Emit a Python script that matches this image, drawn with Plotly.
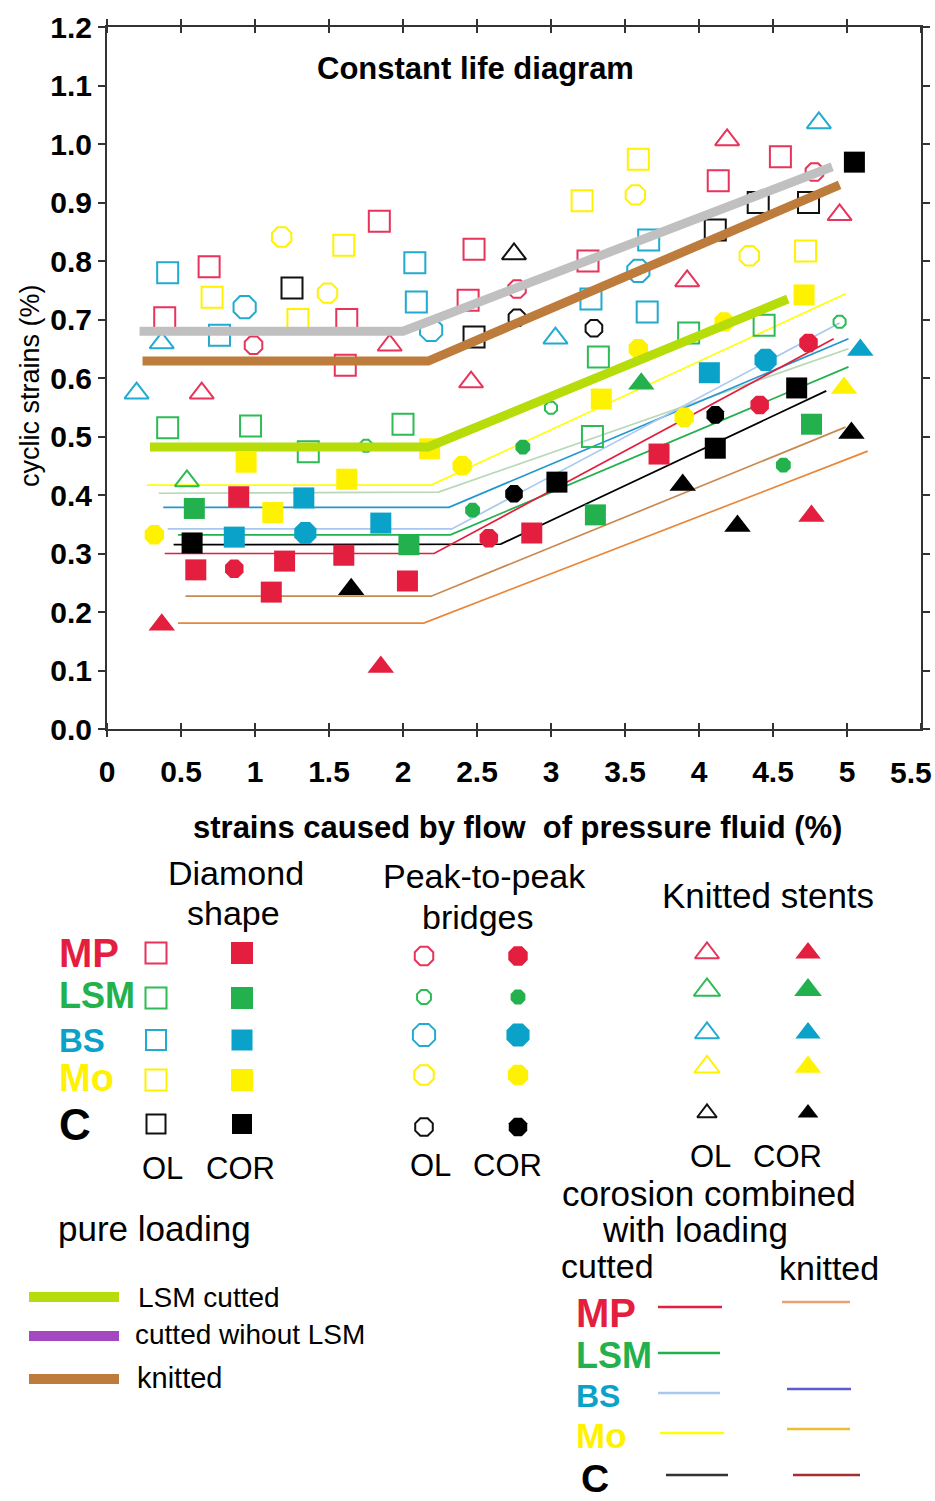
import plotly.graph_objects as go

# ---------------- data ----------------
MATERIALS = ["MP", "LSM", "BS", "Mo", "C"]

# Diamond shape, OL (open squares)
sq_ol_x = {"MP": [0.39, 0.69, 1.62, 1.61, 1.84, 2.48, 2.44, 3.25, 4.13, 4.55],
           "LSM": [0.41, 0.97, 1.36, 2.00, 3.32, 3.28, 3.93, 4.44],
           "BS": [0.41, 0.76, 2.08, 2.09, 3.27, 3.66, 3.65],
           "Mo": [0.71, 1.29, 1.60, 3.21, 3.59, 4.72],
           "C": [1.25, 2.48, 4.11, 4.40, 4.74]}
sq_ol_y = {"MP": [0.703, 0.790, 0.700, 0.622, 0.868, 0.820, 0.733, 0.800, 0.937, 0.978],
           "LSM": [0.515, 0.518, 0.474, 0.521, 0.636, 0.500, 0.677, 0.690],
           "BS": [0.780, 0.673, 0.797, 0.730, 0.735, 0.836, 0.713],
           "Mo": [0.738, 0.700, 0.827, 0.903, 0.974, 0.817],
           "C": [0.754, 0.670, 0.853, 0.900, 0.900]}
# Diamond shape, COR (filled squares)
sq_cor_x = {"MP": [0.89, 0.60, 1.20, 1.60, 1.11, 2.03, 2.87, 3.73],
            "LSM": [0.59, 2.04, 3.30, 4.76],
            "BS": [0.86, 1.33, 1.85, 4.07],
            "Mo": [0.94, 1.62, 1.12, 2.18, 3.34, 4.71],
            "C": [0.575, 3.04, 4.11, 4.66, 5.05]}
sq_cor_y = {"MP": [0.397, 0.272, 0.287, 0.297, 0.234, 0.253, 0.335, 0.470],
            "LSM": [0.377, 0.315, 0.366, 0.521],
            "BS": [0.328, 0.395, 0.352, 0.609],
            "Mo": [0.456, 0.427, 0.370, 0.479, 0.564, 0.742],
            "C": [0.318, 0.422, 0.480, 0.583, 0.969]}
# Peak-to-peak bridges, OL (open circles)
ci_ol_x = {"MP": [0.99, 2.77, 4.78], "LSM": [1.75, 3.00, 4.95], "BS": [0.93, 2.19, 3.59],
           "Mo": [1.18, 1.49, 3.57, 4.34], "C": [2.77, 3.29]}
ci_ol_y = {"MP": [0.656, 0.752, 0.952], "LSM": [0.484, 0.549, 0.696], "BS": [0.721, 0.682, 0.783],
           "Mo": [0.841, 0.745, 0.913, 0.809], "C": [0.703, 0.685]}
# Peak-to-peak bridges, COR (filled circles)
ci_cor_x = {"MP": [0.86, 2.58, 4.41, 4.74], "LSM": [2.47, 2.81, 4.57], "BS": [1.34, 4.45],
            "Mo": [0.32, 2.40, 3.59, 3.90, 4.17], "C": [2.75, 4.11]}
ci_cor_y = {"MP": [0.274, 0.326, 0.554, 0.660], "LSM": [0.374, 0.482, 0.451], "BS": [0.335, 0.631],
            "Mo": [0.332, 0.450, 0.650, 0.533, 0.696], "C": [0.402, 0.537]}
# Knitted stents, OL (open triangles)
tr_ol_x = {"MP": [0.64, 1.91, 2.46, 3.92, 4.19, 4.95], "LSM": [0.54],
           "BS": [0.20, 0.37, 3.03, 4.81], "Mo": [], "C": [2.75]}
tr_ol_y = {"MP": [0.574, 0.656, 0.593, 0.766, 1.007, 0.879], "LSM": [0.424],
           "BS": [0.574, 0.660, 0.668, 1.036], "Mo": [], "C": [0.812]}
# Knitted stents, COR (filled triangles)
tr_cor_x = {"MP": [0.37, 1.85, 4.76], "LSM": [3.61], "BS": [5.09], "Mo": [4.98],
            "C": [1.65, 3.89, 4.26, 5.03]}
tr_cor_y = {"MP": [0.178, 0.106, 0.364], "LSM": [0.590], "BS": [0.648], "Mo": [0.583],
            "C": [0.239, 0.417, 0.347, 0.506]}

# pure loading (thick lines)
pure_gray_x = [0.22, 2.00, 4.90]
pure_gray_y = [0.680, 0.680, 0.961]
pure_brown_x = [0.24, 2.17, 4.95]
pure_brown_y = [0.629, 0.629, 0.930]
pure_lime_x = [0.29, 2.17, 4.60]
pure_lime_y = [0.482, 0.482, 0.735]

# corrosion combined with loading (thin lines)
corr_names = ["Mo cutted", "knit A", "BS knit", "BS cutted", "LSM cutted", "C cutted", "MP cutted",
              "MP knit", "knit B"]
corr_x = {"Mo cutted": [0.27, 2.19, 4.99], "knit A": [0.35, 2.24, 5.01], "BS knit": [0.38, 2.31, 5.01],
          "BS cutted": [0.41, 2.33, 4.95], "LSM cutted": [0.48, 2.32, 5.01], "C cutted": [0.45, 2.66, 4.86],
          "MP cutted": [0.39, 2.21, 4.91], "MP knit": [0.53, 2.19, 4.99], "knit B": [0.48, 2.14, 5.14]}
corr_y = {"Mo cutted": [0.417, 0.417, 0.744], "knit A": [0.403, 0.405, 0.650], "BS knit": [0.379, 0.379, 0.667],
          "BS cutted": [0.342, 0.342, 0.694], "LSM cutted": [0.332, 0.332, 0.619], "C cutted": [0.315, 0.316, 0.578],
          "MP cutted": [0.300, 0.300, 0.667], "MP knit": [0.227, 0.227, 0.516], "knit B": [0.181, 0.181, 0.475]}

x_tick_vals = [0, 0.5, 1, 1.5, 2, 2.5, 3, 3.5, 4, 4.5, 5, 5.5]
x_tick_text = ["0", "0.5", "1", "1.5", "2", "2.5", "3", "3.5", "4", "4.5", "5", ""]
last_tick_label = "5.5"   # drawn separately so it stays inside the page edge

# ---------------- styles ----------------
W, H = 935, 1501
PL, PR, PT, PB = 107, 921, 27, 729
FONT = "Liberation Sans, Arial, sans-serif"

COL = {"MP": "#e41e3f", "LSM": "#22b14c", "BS": "#0aa2c8", "Mo": "#fff200", "C": "#000000"}
OPEN_COL = {"MP": "#e8335a", "LSM": "#2cbb55", "BS": "#22aad0", "Mo": "#fff200", "C": "#111111"}
CORR_COL = {"Mo cutted": "#ffff00", "knit A": "#b8d8b8", "BS knit": "#2296d0", "BS cutted": "#a8c8f0",
            "LSM cutted": "#22b14c", "C cutted": "#000000", "MP cutted": "#e41e3f",
            "MP knit": "#c98a52", "knit B": "#e8863a"}
CI_OL_SIZE = {"MP": 19, "LSM": 13, "BS": 24, "Mo": 21, "C": 18}
CI_COR_SIZE = {"MP": 20, "LSM": 16, "BS": 24, "Mo": 21, "C": 19}

fig = go.Figure()

# thin corrosion lines
for n in corr_names:
    fig.add_trace(go.Scatter(x=corr_x[n], y=corr_y[n], mode="lines",
                             line=dict(color=CORR_COL[n], width=1.7), hoverinfo="skip"))

# markers
def add_markers(xd, yd, symbol, sizes, filled):
    for m in MATERIALS:
        if not xd[m]:
            continue
        size = sizes[m] if isinstance(sizes, dict) else sizes
        if filled:
            mk = dict(symbol=symbol, size=size, color=COL[m], line=dict(width=0))
        else:
            mk = dict(symbol=symbol, size=size, color=OPEN_COL[m], line=dict(width=2, color=OPEN_COL[m]))
        fig.add_trace(go.Scatter(x=xd[m], y=yd[m], mode="markers", marker=mk, hoverinfo="skip"))

add_markers(sq_ol_x, sq_ol_y, "square-open", 21, False)
add_markers(ci_ol_x, ci_ol_y, "octagon-open", CI_OL_SIZE, False)
add_markers(tr_ol_x, tr_ol_y, "triangle-up-open", 21, False)
add_markers(sq_cor_x, sq_cor_y, "square", 21, True)
add_markers(ci_cor_x, ci_cor_y, "octagon", CI_COR_SIZE, True)
add_markers(tr_cor_x, tr_cor_y, "triangle-up", 23, True)

# thick pure loading lines
for xs, ys, c in [(pure_gray_x, pure_gray_y, "#c0c0c0"),
                  (pure_brown_x, pure_brown_y, "#bd7c3c"),
                  (pure_lime_x, pure_lime_y, "#b6dc0a")]:
    fig.add_trace(go.Scatter(x=xs, y=ys, mode="lines", line=dict(color=c, width=9), hoverinfo="skip"))

# ---------------- legend block (pixel coordinates on x2/y2) ----------------
def px_trace(xs, ys, **kw):
    fig.add_trace(go.Scatter(x=xs, y=ys, xaxis="x2", yaxis="y2", hoverinfo="skip", **kw))

leg_cols = {"sq": (156, 242), "ci": (424, 518), "tr": (707, 808)}
leg_rows = {"sq": [953, 998, 1040, 1080, 1124], "ci": [956, 997, 1035, 1075, 1127],
            "tr": [953, 990, 1033, 1067, 1113]}
leg_sym = {"sq": "square", "ci": "octagon", "tr": "triangle-up"}
leg_size = {"sq": {"MP": 21, "LSM": 21, "BS": 20, "Mo": 21, "C": 19},
            "ci": {"MP": 20, "LSM": 15, "BS": 24, "Mo": 21, "C": 19},
            "tr": {"MP": 21, "LSM": 23, "BS": 21, "Mo": 22, "C": 17}}
for key in ["sq", "ci", "tr"]:
    for i, m in enumerate(MATERIALS):
        xo, xc = leg_cols[key]
        yy = leg_rows[key][i]
        s = leg_size[key][m]
        px_trace([xo], [yy], mode="markers",
                 marker=dict(symbol=leg_sym[key] + "-open", size=s, color=OPEN_COL[m],
                             line=dict(width=2, color=OPEN_COL[m])))
        px_trace([xc], [yy], mode="markers",
                 marker=dict(symbol=leg_sym[key], size=s + 1, color=COL[m], line=dict(width=0)))

# pure loading legend lines
for yy, c in [(1297, "#b6dc0a"), (1336, "#a348c0"), (1379, "#bd7c3c")]:
    px_trace([29, 119], [yy, yy], mode="lines", line=dict(color=c, width=10))

# corrosion legend lines
for (x0, x1, yy, c) in [(658, 722, 1307, "#e41e3f"), (658, 720, 1353, "#22b14c"),
                        (658, 720, 1393, "#a8c8f0"), (660, 724, 1433, "#ffff00"),
                        (666, 728, 1475, "#333333"),
                        (782, 850, 1302, "#f0a070"), (787, 851, 1389, "#5c5cd0"),
                        (787, 850, 1429, "#e8c030"), (793, 860, 1475, "#a03030")]:
    px_trace([x0, x1], [yy, yy], mode="lines", line=dict(color=c, width=2.5))

ann = []
def txt(t, x, y, size, color="black", bold=False, xanchor="center", angle=0):
    ann.append(dict(text=t, x=x, y=y, xref="x2", yref="y2", showarrow=False,
                    xanchor=xanchor, yanchor="middle", textangle=angle,
                    font=dict(family=FONT, size=size, color=color,
                              weight="bold" if bold else "normal")))

txt(last_tick_label, 911, 772, 30, bold=True)
txt("Constant life diagram", 475, 68, 31, bold=True)
txt("strains caused by flow\u00a0 of pressure fluid (%)", 517, 827, 31, bold=True)
txt("cyclic strains (%)", 30, 386, 27, angle=-90)

txt("Diamond", 236, 873, 34)
txt("shape", 233, 913, 34)
txt("Peak-to-peak", 484, 876, 34)
txt("bridges", 478, 917, 34)
txt("Knitted stents", 768, 895, 35)

row_lab = [("MP", 953, 40), ("LSM", 995, 36), ("BS", 1040, 33), ("Mo", 1078, 38), ("C", 1124, 44)]
for (t, yy, s), m in zip(row_lab, MATERIALS):
    txt(t, 57, yy, s, color=COL[m], bold=True, xanchor="left")

for t, xx, yy in [("OL", 162, 1168), ("COR", 240, 1168), ("OL", 430, 1165), ("COR", 507, 1165),
                  ("OL", 710, 1156), ("COR", 787, 1156)]:
    txt(t, xx, yy, 31)

txt("pure loading", 154, 1228, 35)
txt("LSM cutted", 136, 1297, 28, xanchor="left")
txt("cutted wihout LSM", 133, 1334, 28, xanchor="left")
txt("knitted", 135, 1378, 29, xanchor="left")

txt("corosion combined", 709, 1193, 35)
txt("with loading", 695, 1229, 35)
txt("cutted", 607, 1266, 34)
txt("knitted", 829, 1268, 34)
row_lab2 = [("MP", 1313, 40), ("LSM", 1355, 36), ("BS", 1396, 32), ("Mo", 1435, 35), ("C", 1478, 39)]
for (t, yy, s), m in zip(row_lab2, MATERIALS):
    txt(t, 574 if t != "C" else 579, yy, s, color=COL[m], bold=True, xanchor="left")

axis_col = "#333333"
tickfont = dict(family=FONT, size=30, color="black", weight="bold")
fig.update_layout(
    width=W, height=H, margin=dict(l=0, r=0, t=0, b=0, pad=0, autoexpand=False),
    paper_bgcolor="white", plot_bgcolor="rgba(0,0,0,0)", showlegend=False,
    annotations=ann,
    xaxis=dict(domain=[PL / W, PR / W], range=[0, 5.5], tickvals=x_tick_vals, ticktext=x_tick_text,
               showgrid=False, zeroline=False, showline=True, linecolor=axis_col, linewidth=2,
               mirror="ticks", ticks="outside", ticklen=6, tickwidth=2, tickcolor=axis_col,
               minor=dict(ticks="inside", ticklen=6, tickwidth=2, tickcolor=axis_col,
                          tickvals=x_tick_vals),
               tickfont=tickfont, ticklabelstandoff=9,
               automargin=False, anchor="y", fixedrange=True),
    yaxis=dict(domain=[1 - PB / H, 1 - PT / H], range=[0, 1.2], dtick=0.1, tick0=0, tickformat=".1f",
               showgrid=False, zeroline=False, showline=True, linecolor=axis_col, linewidth=2,
               mirror="ticks", ticks="outside", ticklen=7, tickwidth=2, tickcolor=axis_col,
               tickfont=tickfont, ticklabelstandoff=0, automargin=False, anchor="x", fixedrange=True),
    xaxis2=dict(domain=[0, 1], range=[0, W], visible=False, automargin=False, fixedrange=True, anchor="y2"),
    yaxis2=dict(domain=[0, 1], range=[H, 0], visible=False, automargin=False, fixedrange=True, anchor="x2"),
)

fig.write_html("out.html", config={"displayModeBar": False},
               post_script="document.body.style.margin='0px';")
